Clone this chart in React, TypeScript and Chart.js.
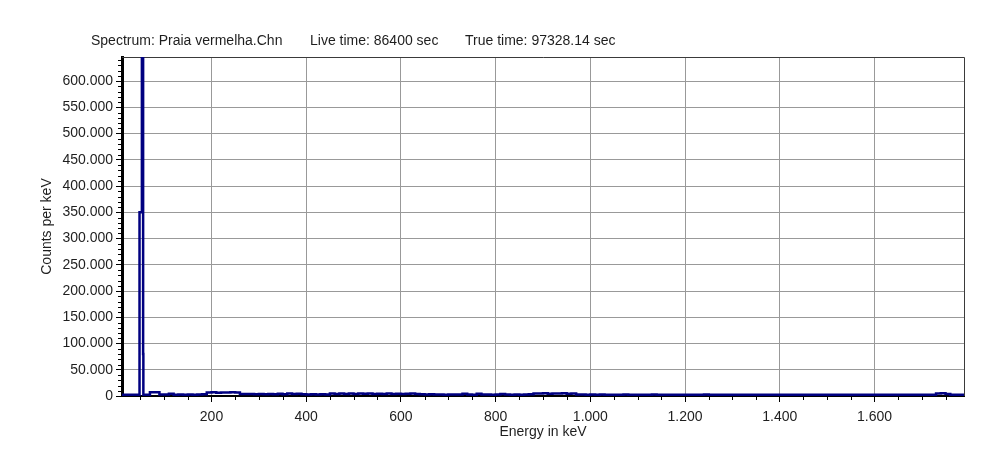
import { useEffect, useRef } from "react";
import { Chart, registerables } from "chart.js";

Chart.register(...registerables);

const TITLE_PARTS = ["Spectrum: Praia vermelha.Chn", "Live time: 86400 sec", "True time: 97328.14 sec"];
const X_TITLE = "Energy in keV";
const Y_TITLE = "Counts per keV";

const X_MIN = 11;
const X_MAX = 1789;
const Y_MIN = 0;
const Y_MAX = 646000;
const X_TICKS = [200, 400, 600, 800, 1000, 1200, 1400, 1600];
const Y_TICKS = [0, 50000, 100000, 150000, 200000, 250000, 300000, 350000, 400000, 450000, 500000, 550000, 600000];
const X_MAJOR = 200;
const X_MINOR = 50;
const Y_MAJOR = 50000;
const Y_MINOR = 10000;

// low-energy region including the dominant peak (keV, counts per keV)
const PEAK_KEV = [11, 20, 30, 40, 48, 53, 55.6, 56.1, 59.6];
const PEAK_COUNTS = [2300, 2500, 2400, 2600, 2500, 350000, 646000, 80000, 2600];

// remaining spectrum in 10 keV bins starting at 60 keV
const BIN_START_KEV = 60;
const BIN_WIDTH_KEV = 10;
const BIN_COUNTS = [
  2500, 2300, 7000, 7200,
  3000, 2700, 4200, 2600, 3000, 2500, 2900, 2600, 3000, 3300,
  6600, 7000, 6400, 6800, 6700, 7100, 6900, 4000, 3600, 3900,
  3500, 3700, 3300, 3600, 3200, 4200, 3400, 4600, 3700, 4400,
  3100, 2800, 3400, 2700, 3200, 2900, 4700, 4000, 5000, 3900,
  4600, 3700, 4800, 4100, 4700, 3900, 4500, 3800, 4700, 4000,
  4400, 3800, 4300, 4900, 3600, 3100, 2800, 3100, 2700, 3000,
  2600, 2900, 2700, 3000, 4300, 2800, 2600, 4100, 2700, 2900,
  2600, 2800, 3900, 2700, 2500, 2800, 2600, 2900, 3200, 5000,
  4600, 5200, 4400, 4900, 4700, 5100, 4500, 4800, 3000, 2700,
  2500, 2800, 2400, 2700, 2500, 2300, 2600, 2400, 2700, 2500,
  2300, 2600, 2400, 2500, 2700, 2300, 2500, 2400, 2600, 2300,
  2500, 2400, 2600, 2300, 2500, 2700, 2400, 2300, 2600, 2500,
  2400, 2600, 2300, 2500, 2400, 2600, 2500, 2300, 2400, 2600,
  2300, 2500, 2400, 2600, 2300, 2400, 2500, 2300, 2600, 2400,
  2500, 2300, 2400, 2600, 2300, 2500, 2400, 2300, 2500, 2400,
  2300, 2500, 2400, 2300, 2600, 2400, 2300, 2500, 2400, 2300,
  2500, 2400, 2300, 2600, 4800, 5200, 4000, 2500, 2300,
];

const FONT_FAMILY = '"Liberation Sans", Arial, sans-serif';
const TEXT_COLOR = "#1e1e1e";

function fmt(v: number): string {
  const s = Math.round(Math.abs(v)).toString().replace(/\B(?=(\d{3})+(?!\d))/g, ".");
  return v < 0 ? "-" + s : s;
}

const decorPlugin = {
  id: "decor",
  beforeDatasetsDraw(chart: any) {
    const { ctx, chartArea: a } = chart;
    ctx.save();
    ctx.strokeStyle = "#3a3a3a";
    ctx.lineWidth = 1;
    ctx.beginPath();
    ctx.moveTo(a.left, a.top + 0.5);
    ctx.lineTo(a.right + 0.5, a.top + 0.5);
    ctx.lineTo(a.right + 0.5, a.bottom);
    ctx.stroke();
    ctx.restore();
  },
  afterDraw(chart: any) {
    const { ctx, chartArea: a, scales } = chart;
    const x = scales.x;
    const y = scales.y;
    ctx.save();
    ctx.strokeStyle = "#000";
    ctx.lineWidth = 1;
    ctx.beginPath();
    for (let v = Math.ceil(X_MIN / X_MINOR) * X_MINOR; v <= X_MAX; v += X_MINOR) {
      if (v % X_MAJOR === 0) continue;
      const px = Math.round(x.getPixelForValue(v)) + 0.5;
      ctx.moveTo(px, a.bottom);
      ctx.lineTo(px, a.bottom + 4);
    }
    for (let v = Y_MIN + Y_MINOR; v <= Y_MAX; v += Y_MINOR) {
      if (v % Y_MAJOR === 0) continue;
      const py = Math.round(y.getPixelForValue(v)) + 0.5;
      ctx.moveTo(a.left - 4, py);
      ctx.lineTo(a.left, py);
    }
    ctx.stroke();
    // header line
    ctx.fillStyle = TEXT_COLOR;
    ctx.font = `14px ${FONT_FAMILY}`;
    ctx.textBaseline = "alphabetic";
    ctx.textAlign = "left";
    const offsets = [-31, 188, 343];
    TITLE_PARTS.forEach((t, i) => ctx.fillText(t, a.left + offsets[i], a.top - 12));
    ctx.restore();
  },
};

export default function App() {
  const ref = useRef<HTMLCanvasElement | null>(null);

  useEffect(() => {
    if (!ref.current) return;
    const points: { x: number; y: number }[] = [];
    PEAK_KEV.forEach((k, i) => points.push({ x: k, y: PEAK_COUNTS[i] }));
    BIN_COUNTS.forEach((c, i) => points.push({ x: BIN_START_KEV + i * BIN_WIDTH_KEV, y: c }));
    points.push({ x: X_MAX, y: BIN_COUNTS[BIN_COUNTS.length - 1] });

    const tickFont = { family: FONT_FAMILY, size: 14 };
    const chart = new Chart(ref.current, {
      type: "line",
      data: {
        datasets: [
          {
            data: points,
            stepped: "after",
            borderColor: "#000080",
            borderWidth: 2.5,
            pointRadius: 0,
            fill: false,
            tension: 0,
          },
        ],
      },
      options: {
        responsive: false,
        maintainAspectRatio: false,
        animation: false,
        layout: { padding: { top: 57, right: 26, left: 0, bottom: 0 } },
        plugins: {
          legend: { display: false },
          tooltip: { enabled: false },
          title: { display: false },
        },
        scales: {
          x: {
            type: "linear",
            min: X_MIN,
            max: X_MAX,
            afterFit: (s: any) => {
              s.height = 59;
            },
            afterBuildTicks: (s: any) => {
              s.ticks = X_TICKS.map((v) => ({ value: v }));
            },
            ticks: {
              autoSkip: false,
              maxRotation: 0,
              padding: 7,
              color: TEXT_COLOR,
              font: tickFont,
              callback: (v: any) => fmt(Number(v)),
            },
            grid: { color: "#999999", tickColor: "#000", tickLength: 6, lineWidth: 1 },
            border: { color: "#000", width: 2 },
            title: {
              display: true,
              text: X_TITLE,
              color: TEXT_COLOR,
              font: tickFont,
              padding: { top: 0, bottom: 14 },
            },
          },
          y: {
            type: "linear",
            min: Y_MIN,
            max: Y_MAX,
            afterFit: (s: any) => {
              s.width = 122;
            },
            afterBuildTicks: (s: any) => {
              s.ticks = Y_TICKS.map((v) => ({ value: v }));
            },
            ticks: {
              autoSkip: false,
              padding: 3,
              color: TEXT_COLOR,
              font: tickFont,
              callback: (v: any) => fmt(Number(v)),
            },
            grid: { color: "#999999", tickColor: "#000", tickLength: 6, lineWidth: 1 },
            border: { color: "#000", width: 3 },
            title: {
              display: true,
              text: Y_TITLE,
              color: TEXT_COLOR,
              font: tickFont,
              padding: { top: 39, bottom: 0 },
            },
          },
        },
      },
      plugins: [decorPlugin],
    } as any);
    return () => chart.destroy();
  }, []);

  return (
    <div style={{ position: "fixed", left: 0, top: 0, width: 990, height: 455, background: "#fff" }}>
      <canvas ref={ref} width={990} height={455} style={{ display: "block", width: 990, height: 455 }} />
    </div>
  );
}
